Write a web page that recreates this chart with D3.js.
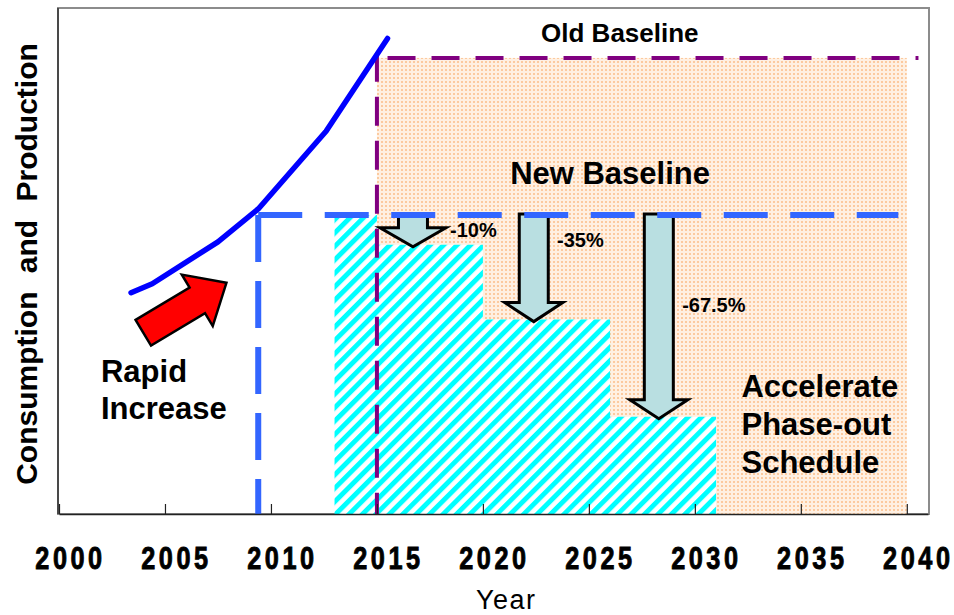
<!DOCTYPE html>
<html>
<head>
<meta charset="utf-8">
<script src="https://cdn.jsdelivr.net/npm/d3@7"></script>
<style>
  html, body { margin: 0; padding: 0; background: #fff; }
  svg { display: block; }
</style>
</head>
<body>
<svg id="chart" width="954" height="615"></svg>
<script>
// ---- data -------------------------------------------------------------
// Historical consumption & production (index, new baseline = 100)
const usageYears  = [2003.4, 2004.4, 2007.5, 2009.4, 2012.6, 2015.5];
const usageValues = [74, 77, 91, 102, 128, 159];

// Baselines
const newBaseline     = 100;
const newBaselineYear = 2009.4;
const newBaselineEnd  = 2039.6;
const oldBaseline     = 152.5;
const oldBaselineYear = 2015;
const oldBaselineEnd  = 2040.55;
const scheduleEnd     = 2040;

// Accelerated phase-out schedule: step start years and reductions (%)
const scheduleYears = [2013, 2015, 2020, 2026, 2031];
const reductions    = [0, 10, 35, 67.5];

// Reduction arrows
const arrowYears     = [2016.7, 2022.4, 2028.3];
const arrowLabels    = ["-10%", "-35%", "-67.5%"];
const arrowLabelYear = [2018.45, 2023.5, 2029.4];
const arrowLabelVal  = [92.6, 89.3, 67.6];

// Axis ticks
const tickYears = [2000, 2005, 2010, 2015, 2020, 2025, 2030, 2035, 2040];

// ---- layout -------------------------------------------------------------
const plotLeft = 59, plotRight = 928, plotTop = 8, plotBottom = 514;
const x = d3.scaleLinear().domain([2000, 2041]).range([plotLeft, plotRight]);
const y = d3.scaleLinear().domain([0, 169.2]).range([plotBottom, plotTop]);

const svg = d3.select("#chart");
const defs = svg.append("defs");
const FONT = "'Liberation Sans', Arial, Helvetica, sans-serif";

// peach dotted fill
const dots = defs.append("pattern")
  .attr("id", "dots").attr("patternUnits", "userSpaceOnUse")
  .attr("width", 4).attr("height", 4);
dots.append("rect").attr("width", 4).attr("height", 4).attr("fill", "#fff0e2");
dots.append("rect").attr("x", 1).attr("y", 1).attr("width", 2).attr("height", 2).attr("fill", "#fcca9f");

// cyan diagonal hatch
const hatch = defs.append("pattern")
  .attr("id", "hatch").attr("patternUnits", "userSpaceOnUse")
  .attr("width", 9.5).attr("height", 9.5)
  .attr("patternTransform", "rotate(45)");
hatch.append("rect").attr("width", 9.5).attr("height", 9.5).attr("fill", "#fff");
hatch.append("rect").attr("width", 4.9).attr("height", 9.5).attr("fill", "#00ffff");

// plot frame
svg.append("rect")
  .attr("x", plotLeft - 1).attr("y", plotTop)
  .attr("width", plotRight - plotLeft + 2).attr("height", plotBottom - plotTop)
  .attr("fill", "#fff").attr("stroke", "#8c8c8c").attr("stroke-width", 2);

// old-baseline allowance region
svg.append("rect")
  .attr("x", x(oldBaselineYear)).attr("y", y(oldBaseline))
  .attr("width", x(scheduleEnd) - x(oldBaselineYear))
  .attr("height", y(0) - y(oldBaseline))
  .attr("fill", "url(#dots)");

// accelerated schedule steps
const steps = scheduleYears.map((yr, i) => ({
  year: yr,
  level: newBaseline * (1 - reductions[Math.min(i, reductions.length - 1)] / 100)
}));
svg.append("path")
  .datum(steps)
  .attr("d", d3.area().curve(d3.curveStepAfter)
    .x(d => x(d.year)).y0(y(0)).y1(d => y(d.level)))
  .attr("fill", "url(#hatch)");

// old baseline (purple dashed)
svg.append("line")
  .attr("x1", x(oldBaselineYear)).attr("x2", x(oldBaselineYear))
  .attr("y1", y(154.2)).attr("y2", y(0))
  .attr("stroke", "#800080").attr("stroke-width", 4).attr("stroke-dasharray", "29,15");
svg.append("line")
  .attr("x1", x(2015.5)).attr("x2", x(oldBaselineEnd))
  .attr("y1", y(oldBaseline)).attr("y2", y(oldBaseline))
  .attr("stroke", "#800080").attr("stroke-width", 4).attr("stroke-dasharray", "28,16");

// historical curve
svg.append("path")
  .datum(usageYears.map((yr, i) => [yr, usageValues[i]]))
  .attr("d", d3.line().x(d => x(d[0])).y(d => y(d[1])))
  .attr("fill", "none").attr("stroke", "#0000ff").attr("stroke-width", 5.5)
  .attr("stroke-linecap", "round").attr("stroke-linejoin", "round");

// reduction arrows
const shaftHalf = 14.5, headH = 19;
const headHalf = [33, 29, 29];
arrowYears.forEach((yr, i) => {
  const cx = x(yr);
  const t = y(newBaseline) - 1;
  const tip = y(newBaseline * (1 - reductions[i + 1] / 100)) + 2;
  const hh = headHalf[i];
  const p = d3.path();
  p.moveTo(cx - shaftHalf, t);
  p.lineTo(cx + shaftHalf, t);
  p.lineTo(cx + shaftHalf, tip - headH);
  p.lineTo(cx + hh, tip - headH);
  p.lineTo(cx, tip);
  p.lineTo(cx - hh, tip - headH);
  p.lineTo(cx - shaftHalf, tip - headH);
  p.closePath();
  svg.append("path").attr("d", p.toString())
    .attr("fill", "#b9dfe1").attr("stroke", "#000").attr("stroke-width", 3)
    .attr("stroke-linejoin", "miter");
  svg.append("text")
    .attr("x", x(arrowLabelYear[i])).attr("y", y(arrowLabelVal[i]))
    .attr("font-family", FONT).attr("font-weight", "bold").attr("font-size", 20)
    .text(arrowLabels[i]);
});

// new baseline (blue dashed)
svg.append("line")
  .attr("x1", x(newBaselineYear)).attr("x2", x(newBaselineYear))
  .attr("y1", y(newBaseline)).attr("y2", y(0))
  .attr("stroke", "#3366ff").attr("stroke-width", 6).attr("stroke-dasharray", "47,19");
svg.append("line")
  .attr("x1", x(newBaselineYear)).attr("x2", x(newBaselineEnd))
  .attr("y1", y(newBaseline)).attr("y2", y(newBaseline))
  .attr("stroke", "#3366ff").attr("stroke-width", 6).attr("stroke-dasharray", "44,22.5");

// "rapid increase" arrow
const ra = svg.append("g")
  .attr("transform", `translate(${x(2007.9)},${y(77.3)}) rotate(-31)`);
ra.append("path")
  .attr("d", "M-97,-15L-34,-15L-34,-30L0,0L-34,30L-34,15L-97,15Z")
  .attr("fill", "#ff0000").attr("stroke", "#000").attr("stroke-width", 2.5)
  .attr("stroke-linejoin", "miter");

// annotations
function label(lines, yr, val, size, anchor, lh) {
  const t = svg.append("text")
    .attr("x", x(yr)).attr("y", y(val))
    .attr("font-family", FONT).attr("font-weight", "bold")
    .attr("font-size", size).attr("text-anchor", anchor);
  lines.forEach((s, i) => {
    t.append("tspan").attr("x", x(yr)).attr("dy", i ? lh : 0).text(s);
  });
}
label(["Old Baseline"], 2026.46, 157.9, 26, "middle", 0);
label(["New Baseline"], 2026.0, 110.4, 31, "middle", 0);
label(["Rapid", "Increase"], 2001.98, 44.1, 31, "start", 37);
label(["Accelerate", "Phase-out", "Schedule"], 2032.2, 39.1, 31, "start", 38);

// axes
svg.append("line")
  .attr("x1", plotLeft - 1).attr("x2", plotLeft - 1).attr("y1", plotTop).attr("y2", plotBottom)
  .attr("stroke", "#333").attr("stroke-width", 1.5);

const xAxis = svg.append("g")
  .attr("transform", `translate(0,${plotBottom})`)
  .call(d3.axisBottom(x).tickValues(tickYears).tickFormat(d3.format("d"))
    .tickSizeInner(-10).tickSizeOuter(0));
xAxis.select(".domain").attr("stroke", "#222").attr("stroke-width", 1.5);
xAxis.selectAll(".tick line").attr("stroke", "#222").attr("stroke-width", 1.2);
xAxis.selectAll(".tick text")
  .attr("y", 55).attr("dy", 0)
  .attr("fill", "#000").attr("stroke", "#000").attr("stroke-width", 0.9)
  .attr("font-family", FONT).attr("font-weight", "bold").attr("font-size", 32)
  .attr("letter-spacing", 4.5)
  .attr("transform", "translate(11,0) scale(0.79,1)");

svg.append("text")
  .attr("x", x(2021.1)).attr("y", 609)
  .attr("text-anchor", "middle")
  .attr("font-family", FONT).attr("font-size", 27).attr("letter-spacing", 1.5)
  .text("Year");

svg.append("text")
  .attr("transform", "translate(37,264) rotate(-90)")
  .attr("text-anchor", "middle")
  .attr("font-family", FONT).attr("font-weight", "bold").attr("font-size", 30)
  .attr("word-spacing", 10)
  .text("Consumption and Production");
</script>
</body>
</html>
